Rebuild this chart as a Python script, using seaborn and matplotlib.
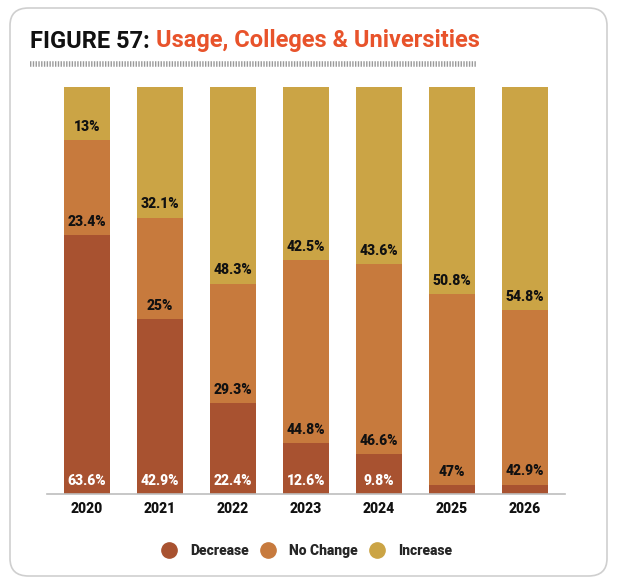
import matplotlib
matplotlib.use("Agg")
import matplotlib.pyplot as plt
from matplotlib.patches import FancyBboxPatch
from matplotlib.lines import Line2D
import seaborn as sns
import pandas as pd
import numpy as np

years = ["2020", "2021", "2022", "2023", "2024", "2025", "2026"]
decrease = [63.6, 42.9, 22.4, 12.6, 9.8, 2.2, 2.3]
no_change = [23.4, 25, 29.3, 44.8, 46.6, 47, 42.9]
increase = [13, 32.1, 48.3, 42.5, 43.6, 50.8, 54.8]
dec_labels = ["63.6%", "42.9%", "22.4%", "12.6%", "9.8%", "", ""]
nc_labels = ["23.4%", "25%", "29.3%", "44.8%", "46.6%", "47%", "42.9%"]
inc_labels = ["13%", "32.1%", "48.3%", "42.5%", "43.6%", "50.8%", "54.8%"]
series_names = ["Decrease", "No Change", "Increase"]
colors = ["#A85230", "#C77A3D", "#CBA445"]

sns.set_theme(style="white")
plt.rcParams["font.family"] = ["Roboto", "DejaVu Sans"]

W, H = 618, 584
fig = plt.figure(figsize=(W / 100, H / 100), dpi=100)

# rounded frame
frame = FancyBboxPatch((10 / W, 8 / H), 597 / W, 568 / H,
                       boxstyle="round,pad=0,rounding_size=0.03",
                       transform=fig.transFigure, facecolor="white",
                       edgecolor="#CFCFCF", linewidth=1.2, zorder=-5)
fig.patches.append(frame)

ax = fig.add_axes([47 / W, 1 - 494 / H, 518 / W, (494 - 87) / H])
ax.set_facecolor("none")
ax.set_zorder(2)

df = pd.DataFrame({"year": years, "Decrease": decrease,
                   "No Change": no_change, "Increase": increase})
bottoms = np.zeros(len(years))
label_sets = [dec_labels, nc_labels, inc_labels]
for name, col, labs in zip(series_names, colors, label_sets):
    sns.barplot(data=df, x="year", y=name, bottom=bottoms, color=col,
                width=0.63, saturation=1, ax=ax, edgecolor="none")
    for i, (b, lab) in enumerate(zip(bottoms, labs)):
        if lab:
            txtcol = "white" if name == "Decrease" else "#111111"
            ax.annotate(lab, (i, b), xytext=(0, 9.5), textcoords="offset points",
                        ha="center", va="center", fontsize=10, fontweight="heavy",
                        color=txtcol)
    bottoms = bottoms + np.array(df[name])

ax.set_xlim(-0.548, 6.548)
ax.set_ylim(0, 100)
ax.set_xlabel("")
ax.set_ylabel("")
ax.set_yticks([])
for s in ["top", "right", "left"]:
    ax.spines[s].set_visible(False)
ax.spines["bottom"].set_color("#BDBDBD")
ax.spines["bottom"].set_linewidth(1.2)
ax.tick_params(axis="x", length=0, pad=6)
for t in ax.get_xticklabels():
    t.set_fontweight("heavy")
    t.set_fontsize(10)
    t.set_color("#111111")

# title
tfam = ["Roboto", "DejaVu Sans"]
t1 = fig.text(30 / W, 1 - 41 / H, "FIGURE 57: ", fontsize=17, fontweight="bold",
              family=tfam, color="#111111", va="center", ha="left")
fig.canvas.draw()
bb = t1.get_window_extent()
fig.text(bb.x1 / W, 1 - 41 / H, "Usage, Colleges & Universities", fontsize=17,
         fontweight="bold", family=tfam, color="#E8532B", va="center", ha="left")
# dotted rule
fig.add_artist(Line2D([30 / W, 477 / W], [1 - 64 / H, 1 - 64 / H],
                      transform=fig.transFigure, color="#9A9A9A",
                      linewidth=4, dashes=(0.25, 0.25)))

handles = [Line2D([], [], marker="o", linestyle="none", markersize=11,
                  markerfacecolor=c, markeredgecolor=c) for c in colors]
fig.legend(handles, series_names, loc="center", bbox_to_anchor=(304 / W, 1 - 551 / H),
           ncol=3, frameon=False, handletextpad=0.5, columnspacing=0.4,
           prop={"weight": "heavy", "size": 10})

fig.savefig("out.png", dpi=100)
